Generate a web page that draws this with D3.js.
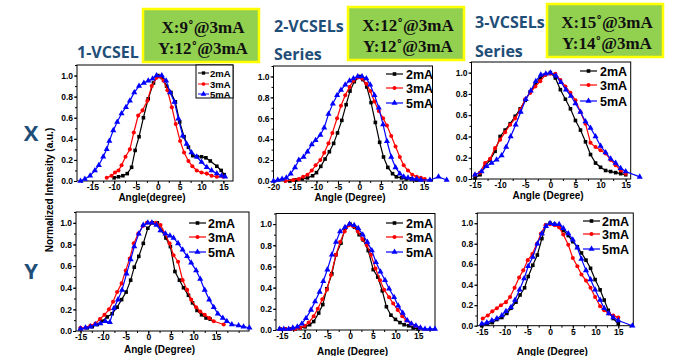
<!DOCTYPE html>
<html><head><meta charset="utf-8">
<script src="https://cdn.jsdelivr.net/npm/d3@7"></script>
<style>body{margin:0;background:#fff}svg{display:block}</style>
</head><body>
<svg id="c" width="674" height="356"></svg>
<script>
// ---------- DATA ----------
const seriesNames = ["2mA", "3mA", "5mA"];
const seriesColors = ["#000000", "#ff0000", "#0000ff"];
const yTicks = [0.0, 0.2, 0.4, 0.6, 0.8, 1.0];
const xTicksA = [-15, -10, -5, 0, 5, 10, 15];
const xTicksB = [-20, -15, -10, -5, 0, 5, 10, 15];
const rowLabels = ["X", "Y"];
const colTitles = [["1-VCSEL"], ["2-VCSELs", "Series"], ["3-VCSELs", "Series"]];
const boxTexts = [["X:9˚@3mA", "Y:12˚@3mA"], ["X:12˚@3mA", "Y:12˚@3mA"], ["X:15˚@3mA", "Y:14˚@3mA"]];
const xTitles = ["Angle(degree)", "Angle (Degree)", "Angle (Degree)", "Angle (Degree)", "Angle (Degree)", "Angle (Degree)"];
const yTitle = "Normalized Intensity (a.u.)";

// 1-VCSEL, X direction
const v1X_2mA = [[-10,0.03],[-9,0.04],[-8,0.05],[-7,0.07],[-6,0.13],[-5.2,0.29],[-4.3,0.42],[-3.3,0.6],[-2.2,0.78],[-1,0.93],[0,1.0],[1,0.98],[2,0.9],[3,0.84],[4,0.75],[5,0.56],[6,0.42],[7,0.32],[8,0.24],[9,0.23],[10,0.23],[11,0.22],[12,0.19],[13.5,0.14],[14.5,0.1],[15.2,0.06]];
const v1X_3mA = [[-11.7,0.03],[-10.6,0.05],[-9.8,0.08],[-9,0.1],[-8.3,0.15],[-7.4,0.23],[-6.4,0.3],[-5.5,0.46],[-4.5,0.62],[-3.5,0.67],[-2.4,0.76],[-1.4,0.9],[-0.3,0.98],[0.5,0.99],[1.3,0.95],[2.2,0.86],[3.2,0.7],[4.1,0.54],[5.1,0.38],[6,0.27],[7,0.19],[7.9,0.14],[8.9,0.1],[10,0.08],[11.2,0.07],[12.3,0.05],[13.5,0.04],[15,0.04]];
const v1X_5mA = [[-17.7,0.0],[-16.7,0.02],[-15.5,0.05],[-14.4,0.1],[-13.5,0.15],[-12.5,0.23],[-11.7,0.3],[-11.1,0.38],[-10.2,0.48],[-9.3,0.56],[-8.3,0.64],[-7.3,0.7],[-6.4,0.76],[-5.4,0.84],[-4.3,0.9],[-3.2,0.93],[-2.2,0.95],[-1.2,0.97],[-0.3,1.0],[0.9,1.0],[1.9,0.95],[2.8,0.84],[3.8,0.75],[4.7,0.59],[5.7,0.43],[6.6,0.35],[7.7,0.27],[8.9,0.23],[10,0.18],[11.2,0.13],[12.3,0.1],[13.5,0.07],[14.6,0.05],[15.4,0.04]];

// 2-VCSELs series, X direction
const v2X_2mA = [[-16.2,0.0],[-14.8,0.01],[-13.3,0.02],[-12.1,0.03],[-10.9,0.05],[-10,0.08],[-9,0.14],[-8,0.21],[-7,0.28],[-6,0.36],[-5.1,0.46],[-4.1,0.58],[-3.1,0.73],[-2.2,0.86],[-1.2,0.95],[0,1.0],[0.8,0.97],[1.7,0.9],[2.7,0.75],[3.7,0.56],[4.7,0.37],[5.6,0.23],[6.6,0.13],[7.7,0.07],[8.6,0.04],[9.8,0.03],[10.9,0.02],[12.1,0.02],[13.3,0.01]];
const v2X_3mA = [[-17.2,0.0],[-15.4,0.01],[-14.1,0.02],[-13.1,0.04],[-12.1,0.06],[-11.1,0.1],[-10.2,0.15],[-9.1,0.2],[-8.2,0.27],[-7.2,0.36],[-6.3,0.46],[-5.2,0.6],[-4.3,0.72],[-3.3,0.82],[-2.3,0.9],[-1.4,0.96],[-0.4,0.99],[0.6,0.98],[1.6,0.93],[2.5,0.86],[3.5,0.76],[4.5,0.67],[5.5,0.6],[6.4,0.53],[7.4,0.43],[8.4,0.33],[9.4,0.23],[10.3,0.15],[11.3,0.1],[12.3,0.06],[13.3,0.04],[14.3,0.03],[15.2,0.02]];
const v2X_5mA = [[-20,0.0],[-19,0.01],[-18,0.02],[-17,0.03],[-16,0.07],[-15,0.13],[-14.1,0.2],[-13,0.23],[-12.1,0.28],[-11.1,0.35],[-10.2,0.39],[-9.1,0.44],[-8.2,0.51],[-7.2,0.64],[-6.2,0.74],[-5.2,0.82],[-4.3,0.87],[-3.3,0.92],[-2.3,0.96],[-1.4,0.98],[-0.4,1.0],[0.6,1.0],[1.6,0.98],[2.5,0.92],[3.5,0.82],[4.5,0.7],[5.5,0.54],[6.4,0.38],[7.4,0.23],[8.4,0.13],[9.4,0.07],[10.3,0.04],[11.3,0.03],[12.3,0.02],[13.3,0.02],[14.3,0.01],[16.4,0.01],[18.4,0.04],[20.3,0.01]];

// 3-VCSELs series, X direction
const v3X_2mA = [[-15,0.01],[-14,0.04],[-13,0.12],[-12,0.18],[-11,0.26],[-10,0.4],[-9,0.46],[-8,0.52],[-7,0.59],[-6,0.66],[-5,0.74],[-4,0.82],[-3,0.89],[-2,0.95],[-1,0.98],[0,1.0],[1,0.95],[2,0.84],[3,0.75],[4,0.66],[5,0.55],[6,0.46],[7,0.35],[8,0.23],[9,0.15],[10,0.11],[11,0.08],[12,0.07],[13,0.06],[14,0.05],[15,0.04]];
const v3X_3mA = [[-15,0.04],[-14,0.06],[-13,0.15],[-12,0.19],[-11,0.29],[-10,0.37],[-9,0.44],[-8,0.51],[-7,0.57],[-6,0.65],[-5,0.75],[-4,0.81],[-3,0.87],[-2,0.92],[-1,0.98],[0,0.99],[1,0.99],[2,0.93],[3,0.87],[4,0.81],[5,0.74],[6,0.63],[7,0.52],[8,0.34],[9,0.3],[10,0.27],[11,0.24],[12,0.18],[13,0.13],[14,0.08],[15,0.05]];
const v3X_5mA = [[-15,0.04],[-13.7,0.07],[-12.7,0.12],[-11.7,0.15],[-10.7,0.18],[-9.7,0.22],[-8.8,0.3],[-7.9,0.4],[-6.9,0.51],[-5.9,0.63],[-4.9,0.75],[-3.9,0.83],[-2.9,0.92],[-1.9,0.98],[-0.9,0.99],[0,1.0],[1.1,0.97],[2.1,0.91],[3.1,0.84],[4.1,0.78],[5,0.71],[6,0.63],[7,0.54],[8,0.48],[9,0.4],[10,0.31],[11,0.25],[12,0.19],[13,0.15],[14,0.1],[15,0.07],[17.8,0.02]];

// 1-VCSEL, Y direction
const v1Y_2mA = [[-15,0.02],[-13.5,0.03],[-12.4,0.04],[-11.3,0.06],[-10.2,0.09],[-9.1,0.13],[-8,0.16],[-6.9,0.22],[-5.9,0.29],[-4.9,0.36],[-3.9,0.47],[-3.1,0.59],[-2.1,0.69],[-1.1,0.81],[-0.1,0.95],[0.9,1.0],[2,1.0],[2.9,0.93],[3.9,0.86],[4.9,0.78],[5.9,0.55],[6.9,0.47],[7.8,0.4],[8.9,0.33],[9.8,0.26],[10.8,0.19],[11.8,0.15],[12.8,0.12],[13.7,0.11]];
const v1Y_3mA = [[-15,0.03],[-13.9,0.03],[-12.8,0.05],[-11.7,0.07],[-10.7,0.11],[-9.7,0.15],[-8.7,0.2],[-7.8,0.27],[-6.9,0.36],[-5.9,0.44],[-5,0.56],[-4.1,0.67],[-3.2,0.81],[-2.2,0.9],[-1.2,0.97],[-0.3,1.0],[0.7,1.0],[1.7,1.0],[2.7,0.98],[3.7,0.9],[4.7,0.81],[5.6,0.7],[6.6,0.64],[7.6,0.47],[8.6,0.38],[9.5,0.29],[10.6,0.22],[11.5,0.18],[12.5,0.15],[13.5,0.12],[14.5,0.09],[16.7,0.06]];
const v1Y_5mA = [[-15,0.02],[-13.9,0.03],[-12.8,0.04],[-11.7,0.06],[-10.6,0.07],[-9.5,0.09],[-8.5,0.08],[-7.6,0.21],[-6.7,0.29],[-5.8,0.38],[-4.8,0.53],[-3.9,0.66],[-3.1,0.78],[-2.1,0.9],[-1.1,0.98],[-0.1,1.0],[0.8,1.0],[1.8,0.98],[2.7,0.93],[3.8,0.9],[4.8,0.88],[5.6,0.86],[6.6,0.81],[7.6,0.75],[8.6,0.69],[9.5,0.63],[10.6,0.56],[11.5,0.48],[12.5,0.38],[13.5,0.29],[14.5,0.22],[15.4,0.16],[16.5,0.12],[17.4,0.09],[18.5,0.06],[20,0.05],[21.1,0.04],[22.4,0.03]];

// 2-VCSELs series, Y direction
const v2Y_2mA = [[-15.4,0.01],[-14.3,0.01],[-13.2,0.01],[-12.1,0.01],[-11,0.02],[-9.9,0.03],[-8.9,0.05],[-8,0.08],[-6.9,0.16],[-6,0.24],[-5.1,0.39],[-4,0.53],[-3.1,0.71],[-2,0.82],[-1.1,0.96],[0,1.0],[1,0.97],[2,0.9],[2.9,0.85],[4,0.75],[5.1,0.57],[6.1,0.5],[7.1,0.37],[8,0.22],[9,0.14],[10,0.1],[11,0.07],[11.9,0.05],[12.9,0.04],[13.9,0.02],[15,0.01]];
const v2Y_3mA = [[-15.4,0.01],[-14.3,0.01],[-13.2,0.01],[-12.1,0.01],[-11,0.02],[-10,0.04],[-9.1,0.07],[-8,0.13],[-7.1,0.2],[-6.1,0.29],[-5.1,0.38],[-4.2,0.52],[-3.1,0.71],[-2.2,0.83],[-1.2,0.93],[-0.2,0.99],[0.7,0.98],[1.7,0.93],[2.7,0.86],[3.7,0.8],[4.6,0.71],[5.6,0.58],[6.6,0.47],[7.5,0.38],[8.6,0.31],[9.5,0.25],[10.5,0.19],[11.5,0.13],[12.4,0.09],[13.4,0.06],[14.4,0.04],[15.4,0.02]];
const v2Y_5mA = [[-15.5,0.01],[-14.6,0.01],[-13.5,0.01],[-12.6,0.02],[-11.6,0.03],[-10.6,0.06],[-9.7,0.11],[-8.6,0.19],[-7.7,0.27],[-6.7,0.36],[-5.9,0.46],[-5,0.57],[-4,0.71],[-3.1,0.83],[-2.2,0.93],[-1.1,0.97],[-0.1,1.0],[0.9,0.99],[1.8,0.96],[2.8,0.9],[3.8,0.83],[4.8,0.75],[5.7,0.64],[6.7,0.55],[7.7,0.47],[8.6,0.39],[9.7,0.31],[10.6,0.23],[11.6,0.16],[12.6,0.09],[13.5,0.06],[14.5,0.04],[15.5,0.02],[16.5,0.01],[17.6,0.01],[18.7,0.01]];

// 3-VCSELs series, Y direction
const v3Y_2mA = [[-15,0.0],[-13.8,0.02],[-12.7,0.03],[-11.7,0.06],[-10.6,0.08],[-9.5,0.12],[-8.6,0.17],[-7.5,0.23],[-6.6,0.3],[-5.6,0.37],[-4.8,0.48],[-3.8,0.59],[-2.8,0.69],[-1.8,0.85],[-0.9,0.98],[0,1.0],[1,0.99],[2,0.97],[2.9,0.93],[4,0.88],[5,0.82],[6,0.77],[6.9,0.71],[7.9,0.64],[8.9,0.56],[9.9,0.45],[11,0.35],[11.9,0.25],[12.8,0.15],[13.9,0.07],[15,0.02]];
const v3Y_3mA = [[-14.8,0.07],[-13.7,0.1],[-12.7,0.14],[-11.7,0.17],[-10.8,0.2],[-9.7,0.23],[-8.8,0.28],[-7.8,0.37],[-6.8,0.47],[-5.9,0.54],[-4.9,0.64],[-3.9,0.7],[-2.9,0.8],[-2,0.9],[-1,0.98],[0,0.99],[1,0.98],[2,0.96],[2.9,0.89],[4,0.79],[5,0.66],[6,0.58],[6.9,0.5],[7.9,0.44],[8.9,0.37],[9.9,0.28],[11,0.19],[11.9,0.15],[12.9,0.12],[13.9,0.1],[15,0.08]];
const v3Y_5mA = [[-15,0.02],[-13.9,0.03],[-12.8,0.05],[-11.7,0.07],[-10.6,0.1],[-9.7,0.14],[-8.6,0.18],[-7.7,0.25],[-6.7,0.35],[-5.7,0.46],[-4.8,0.58],[-3.8,0.67],[-2.8,0.8],[-1.8,0.9],[-0.9,0.97],[0,1.0],[1,0.99],[2,0.99],[2.9,0.95],[4,0.9],[5,0.84],[6,0.76],[6.9,0.65],[7.9,0.54],[8.9,0.45],[9.9,0.35],[11,0.25],[11.9,0.17],[12.9,0.12],[13.9,0.08],[15,0.05],[18.1,0.0]];

// ---------- LAYOUT ----------
const panels = [
  {series:[v1X_2mA,v1X_3mA,v1X_5mA], x0:77, x1:233, top:65, bottom:181, dom:[-18.5,17.2], ticks:xTicksA, title:xTitles[0], titleY:201, legend:"box"},
  {series:[v2X_2mA,v2X_3mA,v2X_5mA], x0:273.5, x1:432.5, top:66, bottom:181, dom:[-20,17], ticks:xTicksB, title:xTitles[1], titleY:201, legend:{lx:386, tx:406, ys:[74,88,103]}},
  {series:[v3X_2mA,v3X_3mA,v3X_5mA], x0:471.5, x1:630.7, top:62, bottom:179, dom:[-15.7,16], ticks:xTicksA, title:xTitles[2], titleY:199, legend:{lx:580, tx:600, ys:[71,85,101]}},
  {series:[v1Y_2mA,v1Y_3mA,v1Y_5mA], x0:76, x1:249, top:212, bottom:331, dom:[-16,22.3], ticks:xTicksA, title:xTitles[3], titleY:353, legend:{lx:189, tx:208, ys:[223,237,252]}},
  {series:[v2Y_2mA,v2Y_3mA,v2Y_5mA], x0:276, x1:435, top:213.5, bottom:330, dom:[-16.3,18.7], ticks:xTicksA, title:xTitles[4], titleY:355, legend:{lx:386, tx:406, ys:[223,237,252]}},
  {series:[v3Y_2mA,v3Y_3mA,v3Y_5mA], x0:477.3, x1:633.3, top:213, bottom:325.7, dom:[-16,18.3], ticks:xTicksA, title:xTitles[5], titleY:355, legend:{lx:583, tx:602, ys:[221,234,249]}}
];

const svg = d3.select("#c");
const FONT = "'Liberation Sans', Arial, sans-serif";
const symTypes = [d3.symbolSquare, d3.symbolCircle, d3.symbolTriangle];
const symSizes = [13, 13, 16];

function drawMarker(g, type, i, x, y, size) {
  g.append("path").attr("d", d3.symbol().type(type).size(size)())
    .attr("transform", `translate(${x},${y})`).attr("fill", seriesColors[i]);
}

panels.forEach((p) => {
  const x = d3.scaleLinear().domain(p.dom).range([p.x0, p.x1]);
  const y = d3.scaleLinear().domain([0, 1.1]).range([p.bottom, p.top]);
  const g = svg.append("g");

  // minor ticks
  const minorX = d3.range(Math.ceil(p.dom[0] / 2.5) * 2.5, p.dom[1] + 0.01, 2.5);
  g.append("g").attr("transform", `translate(0,${p.bottom})`)
    .call(d3.axisBottom(x).tickValues(minorX).tickSize(2).tickFormat(""))
    .call(s => s.select(".domain").remove());
  g.append("g").attr("transform", `translate(${p.x0},0)`)
    .call(d3.axisLeft(y).tickValues(d3.range(0, 1.11, 0.1)).tickSize(2).tickFormat(""))
    .call(s => s.select(".domain").remove());

  // major axes
  const ax = g.append("g").attr("transform", `translate(0,${p.bottom})`)
    .call(d3.axisBottom(x).tickValues(p.ticks).tickSize(3).tickPadding(0).tickFormat(d => String(d)));
  ax.select(".domain").remove();
  ax.selectAll("text").attr("font-family", FONT).attr("font-weight", "bold").attr("font-size", 8.5).attr("fill", "#000");
  const ay = g.append("g").attr("transform", `translate(${p.x0},0)`)
    .call(d3.axisLeft(y).tickValues(yTicks).tickSize(3).tickPadding(1).tickFormat(d3.format(".1f")));
  ay.select(".domain").remove();
  ay.selectAll("text").attr("font-family", FONT).attr("font-weight", "bold").attr("font-size", 8.5).attr("fill", "#000");

  // frame
  g.append("rect").attr("x", p.x0).attr("y", p.top).attr("width", p.x1 - p.x0).attr("height", p.bottom - p.top)
    .attr("fill", "none").attr("stroke", "#000").attr("stroke-width", 1);

  // series
  const line = d3.line().x(d => x(d[0])).y(d => y(d[1]));
  p.series.forEach((data, i) => {
    g.append("path").datum(data).attr("d", line).attr("fill", "none")
      .attr("stroke", seriesColors[i]).attr("stroke-width", 1.2);
    data.forEach(d => drawMarker(g, symTypes[i], i, x(d[0]), y(d[1]), symSizes[i]));
  });

  // x title
  g.append("text").attr("x", (p.x0 + p.x1) / 2 - 3).attr("y", p.titleY).attr("text-anchor", "middle")
    .attr("font-family", FONT).attr("font-weight", "bold").attr("font-size", 10).text(p.title);

  // legend
  if (p.legend === "box") {
    const lx = 196, ly = 65, lw = 37, lh = 33;
    g.append("rect").attr("x", lx).attr("y", ly).attr("width", lw).attr("height", lh)
      .attr("fill", "#fff").attr("stroke", "#000").attr("stroke-width", 1);
    [73, 84, 94].forEach((yy, i) => {
      g.append("line").attr("x1", lx + 2).attr("x2", lx + 13).attr("y1", yy).attr("y2", yy)
        .attr("stroke", seriesColors[i]).attr("stroke-width", 1);
      drawMarker(g, symTypes[i], i, lx + 7.5, yy, symSizes[i] - 2);
      g.append("text").attr("x", lx + 14).attr("y", yy + 3.5).attr("font-family", FONT)
        .attr("font-weight", "bold").attr("font-size", 9.5).text(seriesNames[i]);
    });
  } else {
    p.legend.ys.forEach((yy, i) => {
      g.append("line").attr("x1", p.legend.lx).attr("x2", p.legend.lx + 17).attr("y1", yy).attr("y2", yy)
        .attr("stroke", seriesColors[i]).attr("stroke-width", 1.2);
      drawMarker(g, symTypes[i], i, p.legend.lx + 8.5, yy, symSizes[i]);
      g.append("text").attr("x", p.legend.tx).attr("y", yy + 4.5).attr("font-family", FONT)
        .attr("font-weight", "bold").attr("font-size", 12.5).text(seriesNames[i]);
    });
  }
});

// Y axis title
svg.append("text").attr("transform", "translate(53,190) rotate(-90)").attr("text-anchor", "middle")
  .attr("font-family", FONT).attr("font-weight", "bold").attr("font-size", 10).text(yTitle);

// Row labels
const TFONT = "'Open Sans', sans-serif";
[[31, 141], [31, 279]].forEach((pos, i) => {
  svg.append("text").attr("x", pos[0]).attr("y", pos[1]).attr("text-anchor", "middle")
    .attr("font-family", TFONT).attr("font-weight", "bold").attr("font-size", 22).attr("fill", "#1f4e79").text(rowLabels[i]);
});

// Column titles
const titlePos = [[[77, 58]], [[274, 32], [274, 60]], [[475, 28], [475, 57]]];
colTitles.forEach((lines, c) => {
  lines.forEach((t, k) => {
    svg.append("text").attr("x", titlePos[c][k][0]).attr("y", titlePos[c][k][1])
      .attr("font-family", TFONT).attr("font-weight", "bold").attr("font-size", 16).attr("fill", "#1f4e79").text(t);
  });
});

// Green boxes
const boxes = [[143, 9, 116, 53], [348, 7, 116, 53], [547, 4, 116, 53]];
boxes.forEach((b, c) => {
  svg.append("rect").attr("x", b[0]).attr("y", b[1]).attr("width", b[2]).attr("height", b[3])
    .attr("fill", "#92d050").attr("stroke", "#ffff00").attr("stroke-width", 2.5);
  boxTexts[c].forEach((t, k) => {
    svg.append("text").attr("x", b[0] + b[2] / 2 + 2).attr("y", b[1] + 24 + k * 21).attr("text-anchor", "middle")
      .attr("font-family", "'Liberation Serif', 'Times New Roman', serif").attr("font-weight", "bold")
      .attr("font-size", 17).attr("fill", "#111").text(t);
  });
});
</script>
</body></html>
